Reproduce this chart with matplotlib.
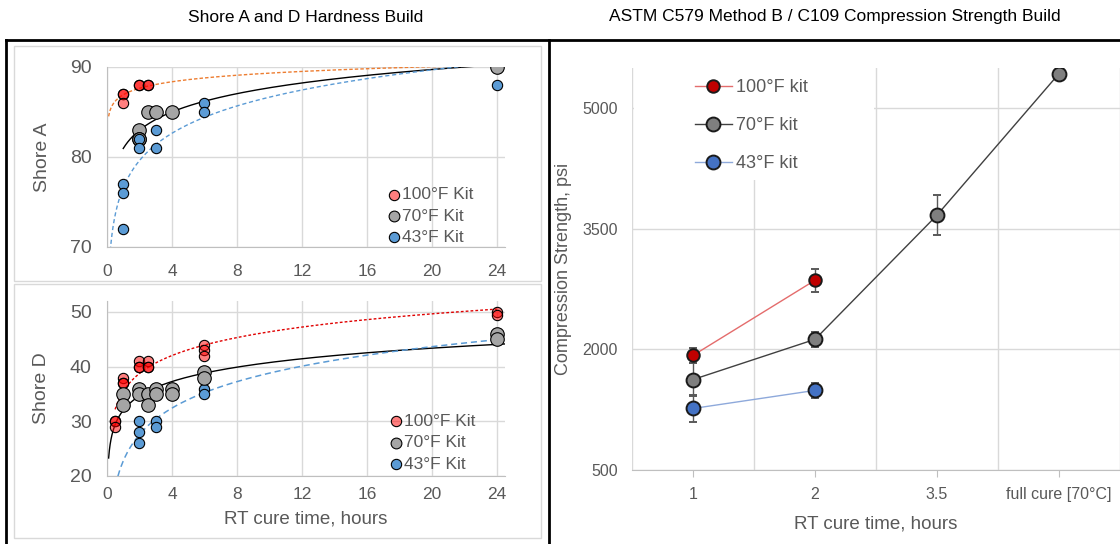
import numpy as np
import matplotlib.pyplot as plt
from matplotlib.lines import Line2D
from matplotlib.patches import Rectangle

plt.rcParams['font.family'] = ['Liberation Sans', 'DejaVu Sans']

# Shore A readings (hours, hardness)
hrs_a_100 = [1, 1, 1, 2, 2, 2.5, 2.5, 24]
shore_a_100 = [87, 87, 86, 88, 88, 88, 88, 90]
hrs_a_70 = [2, 2, 2, 2.5, 3, 4, 24]
shore_a_70 = [83, 82, 82, 85, 85, 85, 90]
hrs_a_43 = [1, 1, 1, 2, 2, 3, 3, 6, 6, 24]
shore_a_43 = [77, 76, 72, 82, 81, 83, 81, 86, 85, 88]

# Shore D readings
hrs_d_100 = [0.5, 0.5, 0.5, 1, 1, 1, 2, 2, 2, 2.5, 2.5, 2.5, 6, 6, 6, 24, 24]
shore_d_100 = [30, 30, 29, 38, 37, 37, 41, 40, 40, 41, 40, 40, 44, 43, 42, 50, 49.5]
hrs_d_70 = [1, 1, 2, 2, 2.5, 2.5, 3, 3, 4, 4, 6, 6, 24, 24]
shore_d_70 = [35, 33, 36, 35, 35, 33, 36, 35, 36, 35, 39, 38, 46, 45]
hrs_d_43 = [2, 2, 2, 3, 3, 6, 6, 24]
shore_d_43 = [30, 28, 26, 30, 29, 36, 35, 45]

# Compression strength
cure_cats = ["1", "2", "3.5", "full cure [70°C]"]
comp_100 = [1925, 2860]
err_100 = [95, 145]
comp_70 = [1625, 2125, 3670, 5430]
err_70 = [205, 90, 250, 0]
comp_43 = [1265, 1490]
err_43 = [170, 95]

W, H = 1120, 544


def box(l, t, r, b):
    return [l / W, 1 - b / H, (r - l) / W, (b - t) / H]


def log_trend(ax, x, y, x0, x1, **kw):
    b, a = np.polyfit(np.log(x), y, 1)
    xx = np.geomspace(x0, x1, 300)
    ax.plot(xx, a + b * np.log(xx), zorder=2, **kw)


red_face = (1, 0, 0, 0.5)
gray_face = '#A5A5A5'
blue_face = '#5B9BD5'
txt = '#595959'
grid_c = '#D9D9D9'

fig = plt.figure(figsize=(11.2, 5.44), dpi=100)

# panel frames
for (x0, y0, x1, y1, c, lw) in [(6, 40, 1120, 40, 'black', 2), (6, 40, 6, 544, 'black', 2),
                                (549, 40, 549, 544, 'black', 2)]:
    fig.add_artist(Line2D([x0 / W, x1 / W], [1 - y0 / H, 1 - y1 / H], color=c, lw=lw))
for (l, t, r, b) in [(14, 46, 541, 281), (14, 284, 541, 538)]:
    fig.add_artist(Rectangle((l / W, 1 - b / H), (r - l) / W, (b - t) / H, fill=False,
                             edgecolor=grid_c, lw=1, transform=fig.transFigure))

fig.text(306 / W, 1 - 17 / H, "Shore A and D Hardness Build", ha='center', va='center', fontsize=12.5)
fig.text(835 / W, 1 - 17 / H, "ASTM C579 Method B / C109 Compression Strength Build",
         ha='center', va='center', fontsize=12.5)


def shore_style(ax, yticks, ylim, ylabel):
    ax.set_xlim(0, 24.5)
    ax.set_ylim(*ylim)
    ax.set_xticks(range(0, 25, 4))
    ax.set_yticks(yticks)
    ax.grid(True, color=grid_c, lw=1)
    ax.set_axisbelow(True)
    for s in ['top', 'right']:
        ax.spines[s].set_visible(False)
    for s in ['left', 'bottom']:
        ax.spines[s].set_color('#BFBFBF')
    ax.tick_params(axis='both', length=0, colors=txt)
    ax.tick_params(axis='y', labelsize=14, pad=11)
    ax.tick_params(axis='x', labelsize=12.5)
    ax.set_ylabel(ylabel, fontsize=14, color=txt, labelpad=14)


# Shore A
axA = fig.add_axes(box(107, 67, 505, 247))
shore_style(axA, [70, 80, 90], (70, 90), "Shore A")
axA.tick_params(axis='x', pad=12)
log_trend(axA, hrs_a_100, shore_a_100, 0.1, 24, color='#ED7D31', lw=1, ls=(0, (2.5, 1.5)))
log_trend(axA, hrs_a_70, shore_a_70, 1, 24, color='black', lw=1)
log_trend(axA, hrs_a_43, shore_a_43, 0.1, 24, color='#5B9BD5', lw=1, ls=(0, (3, 2)))
axA.scatter(hrs_a_100, shore_a_100, s=55, c=[red_face], edgecolors='black', lw=0.8, zorder=3, label="100°F Kit")
axA.scatter(hrs_a_70, shore_a_70, s=95, c=gray_face, edgecolors='black', lw=0.8, zorder=4, label="70°F Kit")
axA.scatter(hrs_a_43, shore_a_43, s=55, c=blue_face, edgecolors='black', lw=0.8, zorder=5, label="43°F Kit")
legA = axA.legend(loc='upper left', bbox_to_anchor=(0.705, 0.333), frameon=False, fontsize=12.5,
                  handlelength=0.7, handletextpad=0.15, labelspacing=0.36, borderpad=0, borderaxespad=0,
                  labelcolor=txt)
legA.legend_handles[1].set_sizes([60])

# Shore D
axD = fig.add_axes(box(107, 301, 505, 476))
shore_style(axD, [20, 30, 40, 50], (20, 52), "Shore D")
axD.tick_params(axis='x', pad=8)
axD.set_xlabel("RT cure time, hours", fontsize=13.5, color=txt, labelpad=6)
log_trend(axD, hrs_d_100, shore_d_100, 0.5, 24, color='#E00000', lw=1, ls=(0, (2, 1.5)))
log_trend(axD, hrs_d_70, shore_d_70, 0.1, 24.5, color='black', lw=1)
log_trend(axD, hrs_d_43, shore_d_43, 0.1, 24, color='#5B9BD5', lw=1.1, ls=(0, (4, 2.5)))
axD.scatter(hrs_d_100, shore_d_100, s=55, c=[red_face], edgecolors='black', lw=0.8, zorder=3, label="100°F Kit")
axD.scatter(hrs_d_43, shore_d_43, s=55, c=blue_face, edgecolors='black', lw=0.8, zorder=4)
axD.scatter(hrs_d_70, shore_d_70, s=95, c=gray_face, edgecolors='black', lw=0.8, zorder=5, label="70°F Kit")
h, l = axD.get_legend_handles_labels()
hb = axD.collections[-2]
legD = axD.legend(h + [hb], l + ["43°F Kit"], loc='upper left', bbox_to_anchor=(0.71, 0.356), frameon=False,
                  fontsize=12.5, handlelength=0.7, handletextpad=0.15, labelspacing=0.36, borderpad=0,
                  borderaxespad=0, labelcolor=txt)
legD.legend_handles[1].set_sizes([60])

# Compression strength
axC = fig.add_axes(box(632, 68, 1120, 470))
xpos = np.arange(len(cure_cats))
axC.set_xlim(-0.5, len(cure_cats) - 0.5)
axC.set_ylim(500, 5500)
axC.set_yticks([500, 2000, 3500, 5000])
axC.set_xticks(xpos)
axC.set_xticklabels(cure_cats)
axC.set_xticks(np.arange(-0.5, len(cure_cats)), minor=True)
axC.grid(True, axis='y', color=grid_c, lw=1)
axC.grid(True, axis='x', which='minor', color=grid_c, lw=1)
axC.set_axisbelow(True)
for s in ['top', 'right', 'left']:
    axC.spines[s].set_visible(False)
axC.spines['bottom'].set_color('#BFBFBF')
axC.tick_params(axis='y', length=0, colors=txt, labelsize=11.5, pad=10)
axC.tick_params(axis='x', which='major', length=5, color='#BFBFBF', colors=txt, labelsize=11.5, pad=7)
axC.tick_params(axis='x', which='minor', length=0)
axC.set_ylabel("Compression Strength, psi", fontsize=13, color=txt, labelpad=8)
axC.set_xlabel("RT cure time, hours", fontsize=13.5, color=txt, labelpad=10)
axC.add_patch(Rectangle((0.004, 0.722), 0.492, 0.278, transform=axC.transAxes, facecolor='white',
                        edgecolor='none', zorder=1))

axC.errorbar(xpos[:len(comp_100)], comp_100, yerr=err_100, fmt='-o', color='#E46C6C', lw=1,
             mfc='#C00000', mec='#1A1A1A', mew=1.4, ms=9, ecolor='#595959', elinewidth=1,
             capsize=3, zorder=3, label="100°F kit")
axC.errorbar(xpos[:len(comp_70)], comp_70, yerr=err_70, fmt='-o', color='#404040', lw=1,
             mfc='#7F7F7F', mec='#1A1A1A', mew=1.4, ms=10, ecolor='#595959', elinewidth=1,
             capsize=3, zorder=3, label="70°F kit")
axC.errorbar(xpos[:len(comp_43)], comp_43, yerr=err_43, fmt='-o', color='#8EA9DB', lw=1,
             mfc='#4472C4', mec='#1A1A1A', mew=1.4, ms=10, ecolor='#595959', elinewidth=1,
             capsize=3, zorder=3, label="43°F kit")
hc, lc = axC.get_legend_handles_labels()
hc = [hh[0] for hh in hc]
axC.legend(hc, lc, loc='upper left', bbox_to_anchor=(0.13, 0.973), frameon=False, fontsize=13,
           handlelength=2.0, handletextpad=0.25, labelspacing=1.17, borderpad=0, borderaxespad=0,
           labelcolor=txt)

fig.savefig("out.png", dpi=100)
